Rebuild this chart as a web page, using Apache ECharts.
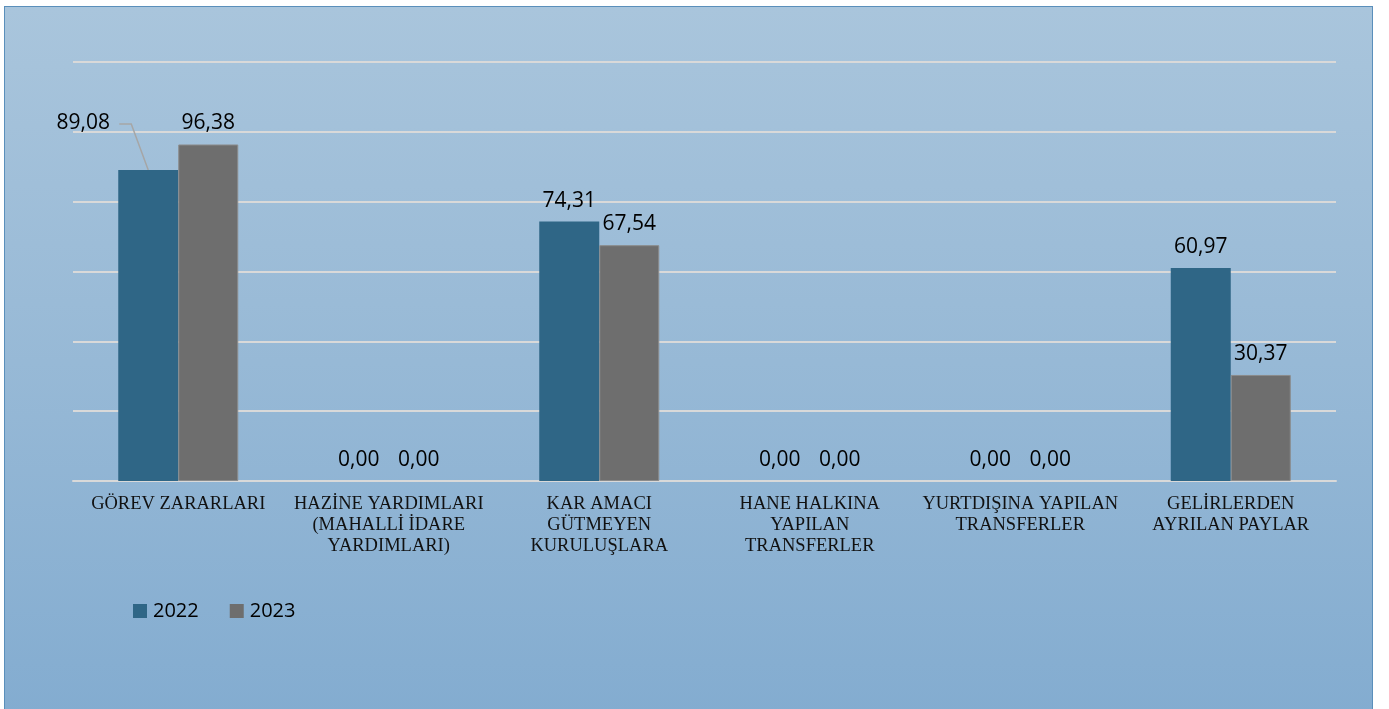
<!DOCTYPE html>
<html><head><meta charset="utf-8">
<script src="https://cdn.jsdelivr.net/npm/echarts@6/dist/echarts.min.js"></script>
<style>
html,body{margin:0;padding:0;background:#fff;width:1389px;height:709px;overflow:hidden;}
#bg{position:absolute;left:4px;top:6px;width:1367px;height:710px;border:1px solid #5a8fbb;
background:linear-gradient(to bottom,#a9c5dc 0%,#97b9d6 50%,#83acd0 100%);}
#chart{position:absolute;left:0;top:0;width:1389px;height:709px;}
</style></head><body>
<div id="bg"></div>
<div id="chart"></div>
<script>
const categories = ['GÖREV ZARARLARI','HAZİNE YARDIMLARI\n(MAHALLİ İDARE\nYARDIMLARI)','KAR AMACI\nGÜTMEYEN\nKURULUŞLARA','HANE HALKINA\nYAPILAN\nTRANSFERLER','YURTDIŞINA YAPILAN\nTRANSFERLER','GELİRLERDEN\nAYRILAN PAYLAR'];
const seriesNames = ['2022','2023'];
const values2022 = [89.08, 0.00, 74.31, 0.00, 0.00, 60.97];
const values2023 = [96.38, 0.00, 67.54, 0.00, 0.00, 30.37];

const chart = echarts.init(document.getElementById('chart'), null, {renderer:'canvas'});
const fmt = p => p.value.toFixed(2).replace('.', ',');
const labelCfg = {show:true, position:'top', distance:9, formatter:fmt,
  fontFamily:'Open Sans', fontSize:21, color:'#000', lineHeight:24};
const LABEL_DX = -65, LABEL_DY = -26;
chart.setOption({
  animation:false,
  backgroundColor:'transparent',
  grid:{left:73, right:53, top:62, bottom:228, containLabel:false},
  legend:{left:133, top:601, itemWidth:14, itemHeight:14, itemGap:31, padding:0,
    icon:'rect', itemStyle:{borderWidth:0},
    textStyle:{fontFamily:'Open Sans', fontSize:20, color:'#000', padding:[0,0,0,1]},
    data:seriesNames},
  xAxis:{type:'category', data:categories,
    axisLine:{lineStyle:{color:'#d9d9d9', width:2}}, axisTick:{show:false},
    axisLabel:{interval:0, margin:13, fontFamily:'Liberation Serif', fontSize:18.5, lineHeight:21, color:'#111'}},
  yAxis:{type:'value', min:0, max:120, interval:20, axisLabel:{show:false},
    axisLine:{show:false}, axisTick:{show:false},
    splitLine:{lineStyle:{color:'#d9d9d9', width:2}}},
  series:[
    {name:seriesNames[0], type:'bar', data:values2022, barWidth:60, barGap:'0%',
     itemStyle:{color:'#2f6686'}, label:labelCfg,
     labelLayout:function(p){ if(p.dataIndex===0) return {dx:LABEL_DX, dy:LABEL_DY}; return {}; }},
    {name:seriesNames[1], type:'bar', barWidth:60, barGap:'0%',
     data:values2023.map(v => ({value:v, itemStyle:{borderWidth: v===0 ? 0 : 1}})),
     itemStyle:{color:'#6e6e6e', borderColor:'#8c8c8c', borderWidth:1}, label:labelCfg}
  ]
});

// leader line for the moved label of the first 2022 bar
function drawLeader(){
  const center = chart.convertToPixel({xAxisIndex:0, yAxisIndex:0}, [0, values2022[0]]);
  const barX = center[0] - 30; // centre of the first (2022) bar in the group
  const barTop = center[1];
  const labelY = barTop - 9 - 12 + LABEL_DY + 1;
  const startX = barX + LABEL_DX + 36;
  chart.setOption({graphic:[{type:'polyline', silent:true,
    shape:{points:[[startX, labelY],[startX+12, labelY],[barX, barTop]]},
    style:{stroke:'#a6a6a6', lineWidth:1.5, fill:null}}]});
}
drawLeader();
</script></body></html>
